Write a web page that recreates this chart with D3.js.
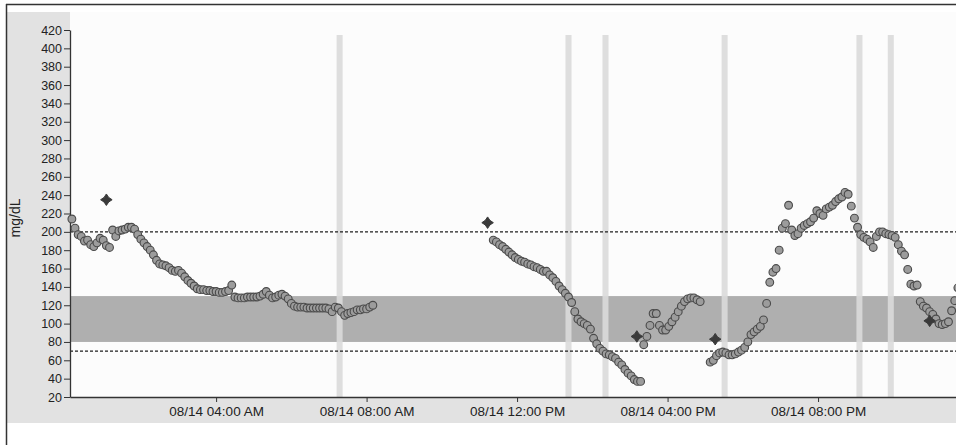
<!DOCTYPE html>
<html>
<head>
<meta charset="utf-8">
<script src="https://cdn.jsdelivr.net/npm/d3@7"></script>
<style>
  body { margin: 0; background: #fff; }
  svg { display: block; }
  .axis text { font-family: "Liberation Sans", Arial, sans-serif; fill: #222; }
  .axis path, .axis line { stroke: #333; }
</style>
</head>
<body>
<div id="chart"></div>
<script>
// Chart size
var width  = 956;
var height = 445;

// Sensor readings, one every 5 minutes, split in runs
var runStarts = ["00:10", "11:22", "15:22", "17:08"];

var run1 = [214, 204, 197, 195, 190, 191, 186, 184, 188, 193, 191, 185, 183, 202, 195, 201,
            202, 203, 205, 205, 203, 197, 192, 188, 184, 180, 175, 169, 165, 164, 163, 161,
            158, 157, 158, 155, 151, 147, 144, 141, 138, 137, 137, 136, 136, 135, 135, 134,
            134, 135, 136, 142, 129, 128, 128, 128, 129, 129, 129, 129, 130, 132, 135, 131,
            128, 129, 131, 132, 130, 127, 122, 119, 118, 118, 118, 117, 117, 117, 117, 117,
            117, 117, 116, 113, 118, 117, 113, 109, 111, 112, 113, 115, 115, 116, 116, 118, 120];

var run2 = [191, 189, 186, 184, 181, 178, 175, 172, 170, 168, 167, 165, 164, 162, 161, 159,
            157, 157, 153, 150, 146, 141, 137, 133, 129, 123, 113, 105, 102, 100, 98, 94,
            84, 78, 73, 70, 67, 66, 64, 62, 58, 55, 50, 46, 43, 39, 37, 37];

var run3 = [77, 86, 98, 111, 111, 98, 93, 93, 97, 102, 107, 113, 119, 124, 127, 128, 128, 126, 124];

var run4 = [58, 60, 65, 68, 69, 68, 66, 66, 67, 69, 71, 74, 80, 88, 91, 94,
            97, 104, 122, 145, 156, 160, 180, 204, 209, 229, 202, 196, 198, 204, 207, 209,
            211, 215, 223, 220, 218, 225, 227, 229, 233, 236, 238, 243, 241, 228, 215, 205,
            197, 194, 192, 189, 183, 195, 200, 200, 198, 197, 196, 194, 186, 179, 175, 159,
            143, 141, 142, 124, 119, 117, 113, 110, 105, 100, 99, 100, 102, 114, 125, 139];

var runs = [run1, run2, run3, run4];

// Meter (fingerstick) readings
var meterTimes  = ["01:05", "11:13", "15:11", "17:16", "22:58"];
var meterValues = [235, 210, 86, 83, 103];

// Light vertical markers
var markerTimes = ["07:17", "13:22", "14:21", "17:31", "21:06", "21:56"];

// Target band and limit lines
var targetLow  = 80;
var targetHigh = 130;
var limitLines = [200, 70];

var yTickValues = [20, 40, 60, 80, 100, 120, 140, 160, 180, 200, 220, 240,
                   260, 280, 300, 320, 340, 360, 380, 400, 420];

// Helpers
function clock(s) {
    var p = s.split(":");
    return new Date(2015, 7, 14, +p[0], +p[1]);
}

var readings = [];
runs.forEach(function(vals, r) {
    var t0 = clock(runStarts[r]);
    vals.forEach(function(v, i) {
        readings.push({ t: d3.timeMinute.offset(t0, i * 5), v: v });
    });
});

var meters = meterTimes.map(function(t, i) { return { t: clock(t), v: meterValues[i] }; });

// Plot area
var plotLeft = 70, plotRight = 956, plotTop = 30, plotBottom = 397;

var x = d3.scaleTime()
    .domain([clock("00:07"), clock("23:40")])
    .range([plotLeft, plotRight]);

var y = d3.scaleLinear()
    .domain([20, 420])
    .range([plotBottom, plotTop]);

var svg = d3.select("#chart").append("svg")
    .attr("width", width)
    .attr("height", height);

// Panel background and frame
svg.append("rect")
    .attr("x", 6).attr("y", 12)
    .attr("width", width - 6).attr("height", 411)
    .attr("fill", "#e2e2e2");

svg.append("rect")
    .attr("x", plotLeft).attr("y", 12)
    .attr("width", plotRight - plotLeft).attr("height", plotBottom - 12)
    .attr("fill", "#fcfcfc");

svg.append("line")
    .attr("x1", 6).attr("x2", width).attr("y1", 4.5).attr("y2", 4.5)
    .attr("stroke", "#333").attr("stroke-width", 1.5);
svg.append("line")
    .attr("x1", 6.5).attr("x2", 6.5).attr("y1", 4).attr("y2", height)
    .attr("stroke", "#333").attr("stroke-width", 1.5);

// Target band
svg.append("rect")
    .attr("x", plotLeft)
    .attr("y", y(targetHigh))
    .attr("width", plotRight - plotLeft)
    .attr("height", y(targetLow) - y(targetHigh))
    .attr("fill", "#afafaf");

// Vertical markers
svg.selectAll(".marker")
    .data(markerTimes)
    .enter().append("rect")
    .attr("class", "marker")
    .attr("x", function(d) { return x(clock(d)) - 3; })
    .attr("y", 35)
    .attr("width", 6)
    .attr("height", plotBottom - 35)
    .attr("fill", "#dadada")
    .attr("opacity", 0.9);

// Dashed limit lines
svg.selectAll(".limit")
    .data(limitLines)
    .enter().append("line")
    .attr("class", "limit")
    .attr("x1", plotLeft).attr("x2", plotRight)
    .attr("y1", function(d) { return y(d); })
    .attr("y2", function(d) { return y(d); })
    .attr("stroke", "#1e1e1e")
    .attr("stroke-width", 1.2)
    .attr("stroke-dasharray", "3,2");

// Axes
var yAxis = svg.append("g")
    .attr("class", "axis")
    .attr("transform", "translate(" + plotLeft + ",0)")
    .call(d3.axisLeft(y).tickValues(yTickValues).tickSize(6).tickSizeOuter(0).tickPadding(2));
yAxis.selectAll("text").style("font-size", "12.5px");
yAxis.select(".domain").attr("stroke-width", 1.3);

var xAxis = svg.append("g")
    .attr("class", "axis")
    .attr("transform", "translate(0," + plotBottom + ")")
    .call(d3.axisBottom(x)
        .ticks(d3.timeHour.every(4))
        .tickFormat(d3.timeFormat("%m/%d %I:%M %p"))
        .tickSize(5).tickSizeOuter(0).tickPadding(4));
xAxis.selectAll("text").style("font-size", "13.5px");
xAxis.select(".domain").attr("stroke-width", 1.5);

svg.append("text")
    .attr("transform", "translate(20,218) rotate(-90)")
    .attr("text-anchor", "middle")
    .attr("font-family", "Liberation Sans, Arial, sans-serif")
    .attr("font-size", "14px")
    .attr("fill", "#222")
    .text("mg/dL");

// Sensor readings
svg.append("g")
    .selectAll("circle")
    .data(readings)
    .enter().append("circle")
    .attr("cx", function(d) { return x(d.t); })
    .attr("cy", function(d) { return y(d.v); })
    .attr("r", 3.9)
    .attr("fill", "#9c9c9c")
    .attr("stroke", "#4a4a4a")
    .attr("stroke-width", 1.1);

// Meter readings as four-pointed stars
var star = {
    draw: function(ctx, size) {
        var r = Math.sqrt(size) / 1.6, k = r * 0.4;
        ctx.moveTo(0, -r);
        ctx.lineTo(k, -k);
        ctx.lineTo(r, 0);
        ctx.lineTo(k, k);
        ctx.lineTo(0, r);
        ctx.lineTo(-k, k);
        ctx.lineTo(-r, 0);
        ctx.lineTo(-k, -k);
        ctx.closePath();
    }
};

svg.append("g")
    .selectAll("path")
    .data(meters)
    .enter().append("path")
    .attr("transform", function(d) { return "translate(" + x(d.t) + "," + y(d.v) + ")"; })
    .attr("d", d3.symbol().type(star).size(85))
    .attr("fill", "#3a3a3a")
    .attr("stroke", "#3a3a3a")
    .attr("stroke-width", 1);
</script>
</body>
</html>
